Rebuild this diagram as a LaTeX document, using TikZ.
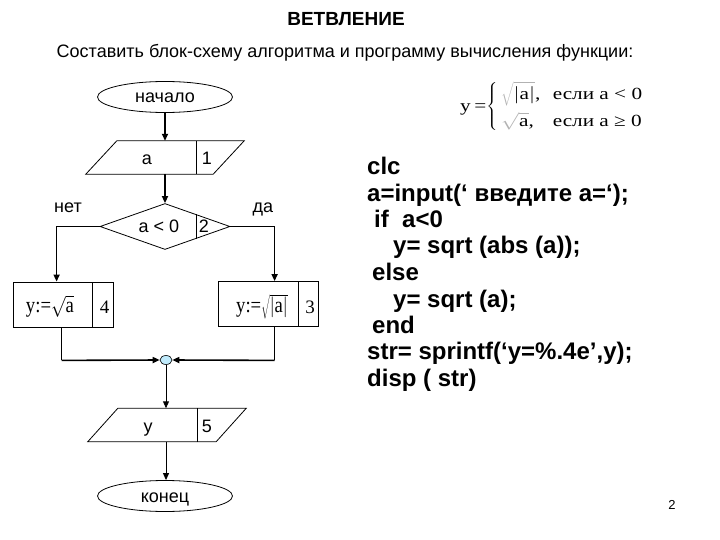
\documentclass[tikz,border=0pt]{standalone}
\usepackage{fontspec}
\usepackage{graphicx}
\setmainfont{Liberation Sans}
\newfontfamily\tnr{Liberation Serif}
\usetikzlibrary{shapes.geometric,arrows.meta,calc}
\begin{document}
\begin{tikzpicture}[x=1pt,y=-1pt,
  every node/.style={inner sep=0pt},
  lbl/.style={anchor=base, font=\fontsize{18}{21}\selectfont},
  fig/.style={draw, line width=0.8pt},
  term/.style={fig, ellipse, minimum width=135pt, minimum height=31pt},
  iobox/.style={rectangle, minimum width=158pt, minimum height=33pt},
  proc/.style={fig, rectangle, minimum width=100pt, minimum height=45pt},
  cond/.style={fig, diamond, minimum width=130pt, minimum height=46pt},
  arr/.style={line width=1.6pt, -{Triangle[length=7pt,width=6pt]}},
  arrthin/.style={line width=0.9pt, -{Triangle[length=7pt,width=6pt]}},
  thinl/.style={line width=0.9pt},
  code/.style={anchor=base west, font=\bfseries\fontsize{24}{26}\selectfont},
  frm/.style={anchor=base, font=\tnr\fontsize{19}{22}\selectfont}
]
\useasboundingbox (0,0) rectangle (720,540);

% titles
\node[anchor=base, font=\bfseries\fontsize{19}{22}\selectfont] (title) at (346,25.5) {ВЕТВЛЕНИЕ};
\node[anchor=base, font=\fontsize{18}{21}\selectfont] (task) at (345,58) {Составить блок-схему алгоритма и программу вычисления функции:};

% flowchart
\node[term] (start) at (165,97) {};
\node[lbl] (startt) at (165,103) {начало};
\node[iobox] (in) at (165,157.5) {};
\draw[fig] (in.south west) -- ($(in.north west)+(31,0)$) -- (in.north east) -- ($(in.south east)+(-31,0)$) -- cycle;
\draw[fig] (196,141) -- (196,174);
\node[lbl] (ina) at (147,165) {a};
\node[lbl] (in1) at (207,165) {1};

\node[cond] (dec) at (165,226.5) {};
\draw[fig] (196,214.5) -- (196,238.5);
\node[lbl] (deca) at (159,233) {a < 0};
\node[lbl] (dec2) at (204,233) {2};
\node[lbl] (no) at (68,212) {нет};
\node[lbl] (yes) at (263,212) {да};

\node[proc] (lbox) at (63,304.5) {};
\draw[fig] (92,282) -- (92,327);
\node[anchor=base] (ltext) at (50,312.5) {\scalebox{0.85}[1]{\tnr\fontsize{22}{26}\selectfont y:=$\sqrt{\hbox{\tnr a}}$}};
\node[frm] (l4) at (104.5,313) {4};

\node[proc] (rbox) at (268,304) {};
\draw[fig] (298,281.5) -- (298,326.5);
\node[anchor=base] (rtext) at (262,312.5) {\scalebox{0.85}[1]{\tnr\fontsize{22}{26}\selectfont y:=$\sqrt{|\hbox{\tnr a}|}$}};
\node[frm] (r3) at (310,313) {3};

\node[ellipse, draw, line width=0.6pt, fill=cyan!25!white, minimum width=12pt, minimum height=9pt] (merge) at (166,360) {};

\node[iobox] (out) at (167,425) {};
\draw[fig] (out.south west) -- ($(out.north west)+(30,0)$) -- (out.north east) -- ($(out.south east)+(-30,0)$) -- cycle;
\draw[fig] (197,408) -- (197,442);
\node[lbl] (outy) at (148,432) {y};
\node[lbl] (out5) at (207,432) {5};

\node[term] (stop) at (165,496) {};
\node[lbl] (stopt) at (165,502) {конец};

% connectors
\draw[arr] (start.south) -- (start.south |- in.north);
\draw[arr] (in.south -| start.south) -- (dec.north);
\draw[arr] (dec.west) -| ($(lbox.north west)+(44,0)$);
\draw[arr] (dec.east) -| ($(rbox.north west)+(57,0)$);
\draw[thinl] ($(lbox.south west)+(49,0)$) -- ($(lbox.south west)+(49,33)$);
\draw[arr] ($(lbox.south west)+(49,33)$) -- (merge.west);
\draw[thinl] ($(rbox.south west)+(57,0)$) -- ($(rbox.south west)+(57,33.5)$);
\draw[arr] ($(rbox.south west)+(57,33.5)$) -- (merge.east);
\draw[arrthin] (merge.south) -- (merge.south |- out.north);
\draw[arrthin] (merge.south |- out.south) -- (merge.south |- stop.north);

% formula
\node[anchor=west] (formula) at (460,107) {\scalebox{1.25}[1]{\fontsize{17}{20}\selectfont
  $\hbox{\tnr y\,=}\!\left\{\begin{array}{@{\,}l@{\hspace{10pt}}l@{}}
  {\color{black!30}\sqrt{\color{black}|\hbox{\tnr a}|}}\hbox{\tnr ,} & \hbox{\tnr если a < 0}\\[7pt]
  {\color{black!30}\sqrt{\color{black}\hbox{\tnr a}}}\hbox{\tnr ,} & \hbox{\tnr если a ≥ 0}
  \end{array}\right.$}};

% code
\node[code] (c1) at (367,175) {clc};
\node[code] (c2) at (367,201.5) {a=input(‘ введите a=‘);};
\node[code] (c3) at (374,228) {if\ \ a<0};
\node[code] (c4) at (393,254) {y= sqrt (abs (a));};
\node[code] (c5) at (372,280.5) {else};
\node[code] (c6) at (393,307) {y= sqrt (a);};
\node[code] (c7) at (372,333) {end};
\node[code] (c8) at (367,359.5) {str= sprintf(‘y=\%.4e’,y);};
\node[code] (c9) at (367,386) {disp ( str)};

\node[font=\fontsize{13}{15}\selectfont] (page) at (672,505) {2};
\end{tikzpicture}
\end{document}
